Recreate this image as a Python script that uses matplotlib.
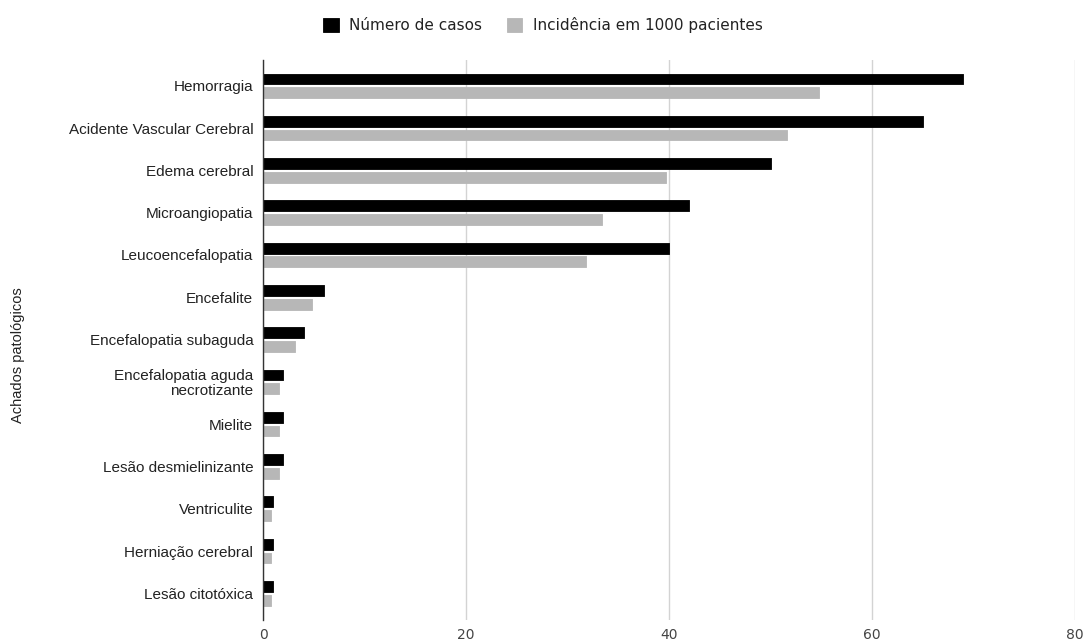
import matplotlib
matplotlib.use("Agg")
import matplotlib.pyplot as plt
import numpy as np

categories = [
    "Hemorragia",
    "Acidente Vascular Cerebral",
    "Edema cerebral",
    "Microangiopatia",
    "Leucoencefalopatia",
    "Encefalite",
    "Encefalopatia subaguda",
    "Encefalopatia aguda\nnecrotizante",
    "Mielite",
    "Lesão desmielinizante",
    "Ventriculite",
    "Herniação cerebral",
    "Lesão citotóxica",
]
casos = [69, 65, 50, 42, 40, 6, 4, 2, 2, 2, 1, 1, 1]
incidencia = [54.8, 51.6, 39.7, 33.4, 31.8, 4.8, 3.2, 1.6, 1.6, 1.6, 0.8, 0.8, 0.8]
series_names = ["Número de casos", "Incidência em 1000 pacientes"]
x_ticks = [0, 20, 40, 60, 80]

plt.rcParams["font.family"] = ["Liberation Sans", "DejaVu Sans"]

fig = plt.figure(figsize=(10.86, 6.44), dpi=100)
ax = fig.add_axes([263 / 1086, 1 - 620 / 644, (1075 - 263) / 1086, (620 - 60) / 644])

y = np.arange(len(categories))
h = 0.255
gap = 0.035
ax.barh(y - h / 2 - gap, casos, height=h, color="#000000", label=series_names[0],
        edgecolor="#000000", linewidth=0.6, joinstyle="round", zorder=3)
ax.barh(y + h / 2 + gap, incidencia, height=h, color="#b7b7b7", label=series_names[1],
        edgecolor="#b7b7b7", linewidth=0.6, joinstyle="round", zorder=3)

ax.set_ylim(len(categories) - 0.37, -0.61)
ax.set_xlim(0, 80)
ax.set_yticks(y)
ax.set_yticklabels(categories, fontsize=11, color="#222222", linespacing=1.1)
ax.set_xticks(x_ticks)
ax.set_xticklabels([str(t) for t in x_ticks], fontsize=10, color="#444444",
                   family=["DejaVu Sans"])
ax.tick_params(axis="both", length=0)
ax.tick_params(axis="y", pad=7)
ax.tick_params(axis="x", pad=6)

ax.grid(axis="x", color="#d3d3d3", linewidth=1, zorder=0)
ax.set_axisbelow(True)
for s in ["top", "right", "bottom"]:
    ax.spines[s].set_visible(False)
ax.spines["left"].set_color("#333333")
ax.spines["left"].set_linewidth(1)
ax.spines["left"].set_zorder(4)

fig.text(18 / 1086, 1 - 355 / 644, "Achados patológicos", rotation=90,
         ha="center", va="center", fontsize=10.5, color="#222222")

leg = fig.legend(loc="center", bbox_to_anchor=(543 / 1086, 1 - 25 / 644), ncol=2,
                 frameon=False, prop={"family": ["DejaVu Sans"], "size": 11},
                 handlelength=1.0, handleheight=1.0,
                 handletextpad=0.7, columnspacing=1.6)
for t in leg.get_texts():
    t.set_color("#222222")

fig.savefig("out.png", dpi=100)
